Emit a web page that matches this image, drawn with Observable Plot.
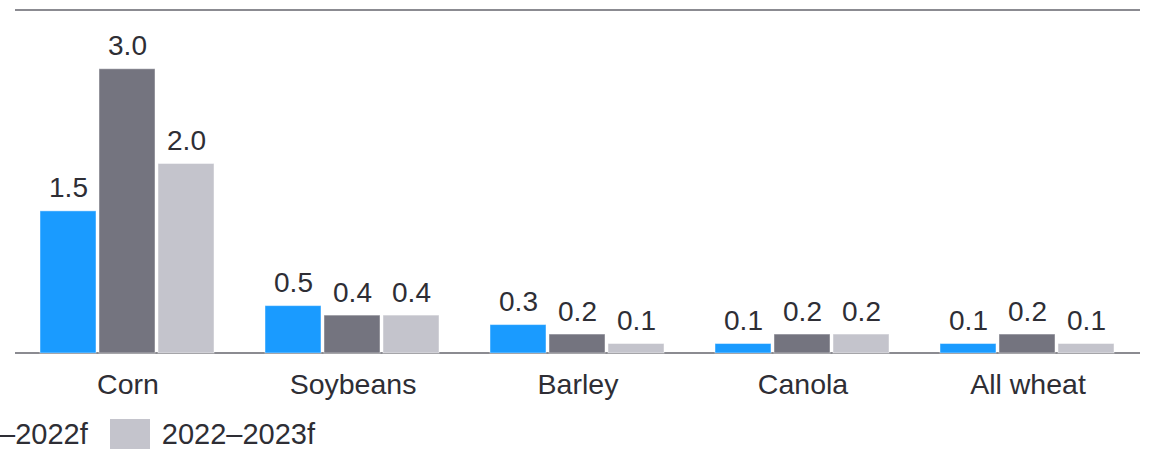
<!DOCTYPE html>
<html>
<head>
<meta charset="utf-8">
<script src="https://cdn.jsdelivr.net/npm/d3@7"></script>
<script src="https://cdn.jsdelivr.net/npm/@observablehq/plot@0.6"></script>
<style>
  html, body { margin: 0; padding: 0; background: #fff; overflow: hidden; }
  body { font-family: "Liberation Sans", Arial, Helvetica, sans-serif; color: #2e2e35; position: relative; width: 1150px; height: 449px; }
  #chart svg { display: block; }
  .legend { position: absolute; top: 419px; right: 835px; display: flex; white-space: nowrap; font-size: 29px; line-height: 1; }
  .legend .item { display: flex; align-items: flex-start; margin-left: 22px; }
  .legend .sw { width: 40px; height: 30px; margin-right: 12px; flex: none; }
  .legend .lab { margin-top: 1px; }
</style>
</head>
<body>
<div id="chart"></div>
<div class="legend" id="legend"></div>
<script>
// Crop categories and the three marketing years shown for each
const crops = ["Corn", "Soybeans", "Barley", "Canola", "All wheat"];
const seasons = ["2020–2021", "2021–2022f", "2022–2023f"];

// Values per season, in crop order
const values2020 = [1.5, 0.5, 0.3, 0.1, 0.1];
const values2021 = [3.0, 0.4, 0.2, 0.2, 0.2];
const values2022 = [2.0, 0.4, 0.1, 0.2, 0.1];

const seasonColors = ["#1a9bff", "#74747f", "#c4c4cc"];

// Top of the value axis (leaves headroom for labels under the top rule)
const yMax = 3.62;

const series = [values2020, values2021, values2022];
const rows = [];
crops.forEach((crop, i) => {
  seasons.forEach((season, j) => {
    rows.push({crop, season, value: series[j][i]});
  });
});

const textColor = "#2e2e35";

const chart = Plot.plot({
  width: 1150,
  height: 405,
  marginTop: 10,
  marginBottom: 52,
  marginLeft: 15,
  marginRight: 10,
  style: {
    fontFamily: '"Liberation Sans", Arial, Helvetica, sans-serif',
    fontSize: "28.5px",
    color: textColor,
    background: "white",
    overflow: "visible"
  },
  fx: {
    domain: crops,
    paddingInner: 0.2222,
    paddingOuter: 0.1111,
    label: null,
    axis: "bottom",
    tickSize: 0,
    tickPadding: 20
  },
  x: { domain: seasons, paddingInner: 0.05, paddingOuter: 0, axis: null },
  y: { domain: [0, yMax], axis: null },
  color: { domain: seasons, range: seasonColors },
  marks: [
    Plot.barY(rows, {
      fx: "crop", x: "season", y: "value", fill: "season",
      stroke: "#ffffff", strokeOpacity: 0.45, strokeWidth: 1
    }),
    Plot.text(rows, {
      fx: "crop", x: "season", y: "value",
      text: d => d.value.toFixed(1),
      lineAnchor: "bottom", dy: -14,
      fontSize: 28, fill: textColor
    })
  ]
});

// Horizontal rules across the whole plot: the baseline and the top border
const yScale = chart.scale("y");
const fxScale = chart.scale("fx");
const [xLeft, xRight] = fxScale.range;
d3.select(chart)
  .insert("g", "g")
  .selectAll("line")
  .data([0, yMax])
  .join("line")
  .attr("x1", xLeft)
  .attr("x2", xRight)
  .attr("y1", d => yScale.apply(d))
  .attr("y2", d => yScale.apply(d))
  .attr("stroke", "#8b8b91")
  .attr("stroke-width", 2);

document.getElementById("chart").appendChild(chart);

// Legend beneath the chart
const legend = d3.select("#legend");
seasons.forEach((s, i) => {
  const item = legend.append("div").attr("class", "item");
  item.append("div").attr("class", "sw").style("background", seasonColors[i]);
  item.append("div").attr("class", "lab").text(s);
});
</script>
</body>
</html>
